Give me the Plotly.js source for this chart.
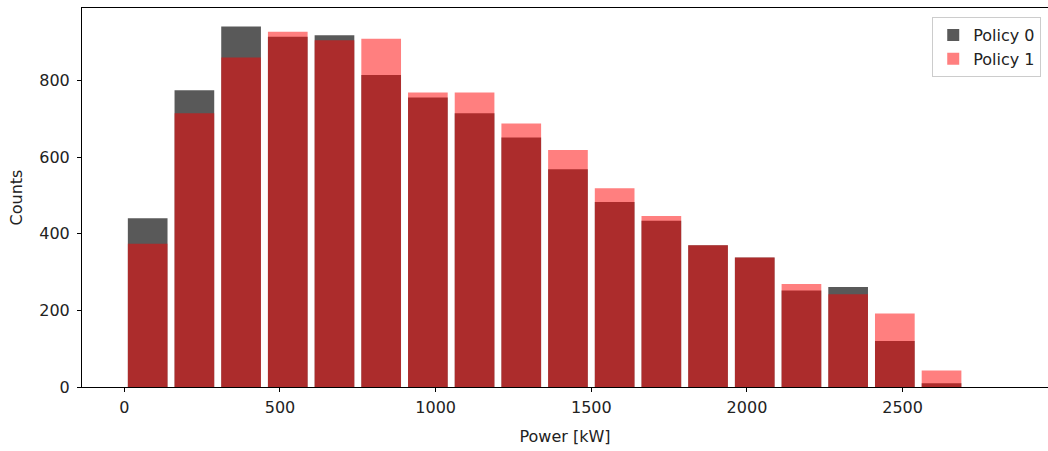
<!DOCTYPE html>
<html>
<head>
<meta charset="utf-8">
<script src="https://cdn.plot.ly/plotly-3.0.1.min.js"></script>
<style>html,body{margin:0;padding:0;background:#fff;}#chart{width:1048px;height:451px;}</style>
</head>
<body>
<div id="chart"></div>
<script>
// Bin centers (kW), bin width 150 kW
const binCenters = [75, 225, 375, 525, 675, 825, 975, 1125, 1275, 1425, 1575, 1725, 1875, 2025, 2175, 2325, 2475, 2625];
const binWidth = 150;
const policy0Counts = [441, 775, 942, 915, 919, 815, 756, 715, 652, 569, 483, 434, 370, 338, 252, 261, 120, 10];
const policy1Counts = [374, 715, 861, 928, 906, 910, 769, 769, 688, 619, 519, 447, 370, 338, 269, 242, 192, 43];
const seriesNames = ["Policy 0", "Policy 1"];
const yTicks = [0, 200, 400, 600, 800];
const xTicks = [0, 500, 1000, 1500, 2000, 2500];

const font = {family: "DejaVu Sans", size: 16, color: "#222"};
const barW = binWidth * 0.85;

const traces = [
  {type: "bar", name: seriesNames[0], x: binCenters, y: policy0Counts, width: barW,
   marker: {color: "rgba(0,0,0,0.65)", line: {width: 0}}},
  {type: "bar", name: seriesNames[1], x: binCenters, y: policy1Counts, width: barW,
   marker: {color: "rgba(255,0,0,0.5)", line: {width: 0}}}
];

const layout = {
  width: 1048, height: 451,
  margin: {l: 82, r: 0, t: 8, b: 64},
  paper_bgcolor: "#fff", plot_bgcolor: "#fff",
  barmode: "overlay",
  font: font,
  showlegend: true,
  legend: {x: 0.993, y: 0.976, xanchor: "right", yanchor: "top",
           bgcolor: "rgba(255,255,255,0.8)", bordercolor: "#cccccc", borderwidth: 1,
           font: font, traceorder: "normal", itemwidth: 30, tracegroupgap: 2},
  xaxis: {range: [-136, 2967], tickvals: xTicks, ticktext: xTicks.map(String),
          showgrid: false, zeroline: false, showline: true, linecolor: "#000", linewidth: 1,
          mirror: true, ticks: "outside", ticklen: 4, tickcolor: "#000",
          tickfont: font, ticklabelstandoff: 2,
          title: {text: "Power [kW]", font: font, standoff: 14}},
  yaxis: {range: [0, 990], tickvals: yTicks, ticktext: yTicks.map(String),
          showgrid: false, zeroline: false, showline: true, linecolor: "#000", linewidth: 1,
          ticks: "outside", ticklen: 4, tickcolor: "#000",
          tickfont: font, ticklabelstandoff: 4,
          title: {text: "Counts", font: font, standoff: 12}}
};

Plotly.newPlot("chart", traces, layout, {displayModeBar: false, staticPlot: true});
</script>
</body>
</html>
